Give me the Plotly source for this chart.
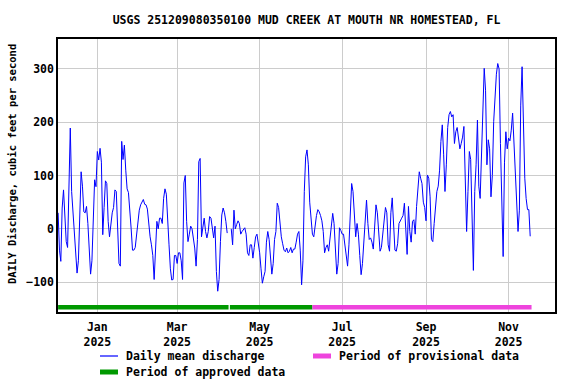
import plotly.graph_objects as go
import pandas as pd

TITLE = "USGS 251209080350100 MUD CREEK AT MOUTH NR HOMESTEAD, FL"
Y_LABEL = "DAILY Discharge, cubic feet per second"
START_DATE = "2024-12-03"

# Daily mean discharge (cfs), consecutive days from START_DATE
q_dec_jan = [30, -40, -61, 39, 73, 10, -24, -35, 100, 189, 70, 30, 0, -61, -83, -60, 40, 107, 80, 32,
             30, 42, 10, -55, -85, -60, 30, 92, 79, 145, 129, 151, 125, -11, 40, 90, 85, 14, -15, 15,
             30, 40, 73, 70, -8]
q_jan_feb = [-65, -70, 164, 130, 157, 110, 75, 68, 40, 0, -40, -40, -35, -8, 15, 35, 45, 50, 55, 46,
             45, 37, 5, -15, -30, -50, -95, -30, 14, 0, 20, 20, 10, 57, 75, 65, 0, -30, -75, -96,
             -95, -50, -50, -65]
q_mar_apr = [-45, -45, -60, -95, 86, 100, 14, -24, -10, 5, 0, -15, -36, -70, -20, 126, 132, -15, 5, 20,
             -5, -17, -5, 23, 20, 5, -17, 5, -80, -117, -95, -24, 26, 39, 30, 14, -8, None, None, 0,
             -30, 35, 0, 8]
q_apr_may = [15, 10, -10, -5, 0, 2, -10, -45, -50, -30, -30, -55, -35, -15, -10, -24, -45, -75, -102, -90,
             -80, -25, -5, -20, -55, -85, -65, -20, -5, 48, 40, 5, -15, -28, -40, -43, -36, -45, -42, -35,
             -45, -38, -38, -25, -10]
q_jun_jul = [-5, -40, -105, -60, 70, 135, 148, 120, 50, 20, -10, -15, 7, 25, 36, 32, 25, 15, -5, -45,
             -35, -30, -42, -15, 5, 29, 10, -30, -85, -65, 2, -3, -10, -10, -30, -50, -70, -30, 32, 85,
             70, 30, -15, 10]
q_aug_sep = [-10, -50, -86, -65, -20, 32, 54, 10, -20, -17, -25, -38, 0, 45, 30, -10, -42, -35, -10, 26,
             40, 30, -30, -42, 30, 58, -5, -40, -42, -28, 10, 17, 20, 25, 48, 0, -48, 42, -5, -25,
             14, 17, -10, 42, 76]
q_sep_oct = [107, 95, 85, 50, 40, 15, 101, 95, 60, -20, -24, 10, 50, 70, 80, 110, 164, 195, 140, 70,
             120, 190, 214, 220, 210, 214, 160, 182, 190, 165, 150, 160, 172, 192, 100, -5, 70, 145, 130, 40,
             -78, 70, 120, 204]
q_oct_nov = [80, 57, 150, 240, 301, 260, 120, 167, 150, 60, 100, 201, 257, 290, 310, 300, 160, 14, -52, 125,
             182, 150, 170, 165, 185, 217, 160, 95, 40, -5, 35, 232, 304, 160, 95, 57, 36, 36, -14]

discharge = q_dec_jan + q_jan_feb + q_mar_apr + q_apr_may + q_jun_jul + q_aug_sep + q_sep_oct + q_oct_nov
dates = pd.date_range(START_DATE, periods=len(discharge), freq="D")

approved_periods = [("2024-12-03", "2025-04-08"), ("2025-04-09", "2025-06-09")]
provisional_periods = [("2025-06-09", "2025-11-18")]
PERIOD_LEVEL = -147

x_tick_vals = ["2025-01-01", "2025-03-01", "2025-05-01", "2025-07-01", "2025-09-01", "2025-11-01"]
x_tick_text = ["Jan<br>2025", "Mar<br>2025", "May<br>2025", "Jul<br>2025", "Sep<br>2025", "Nov<br>2025"]
y_tick_vals = [-100, 0, 100, 200, 300]

BLUE = "#0000FF"
GREEN = "#009900"
PINK = "#EE44DD"
GRID = "#CCCCCC"
FONT = "DejaVu Sans Mono"


def period_xy(periods):
    xs, ys = [], []
    for s, e in periods:
        xs += [s, e, None]
        ys += [PERIOD_LEVEL, PERIOD_LEVEL, None]
    return xs, ys


fig = go.Figure()
ax, ay = period_xy(approved_periods)
fig.add_trace(go.Scatter(x=ax, y=ay, mode="lines", line=dict(color=GREEN, width=4.5),
                         name="Period of approved data", connectgaps=False))
px_, py_ = period_xy(provisional_periods)
fig.add_trace(go.Scatter(x=px_, y=py_, mode="lines", line=dict(color=PINK, width=4.5),
                         name="Period of provisional data", connectgaps=False))
fig.add_trace(go.Scatter(x=dates, y=discharge, mode="lines", line=dict(color=BLUE, width=1),
                         name="Daily mean discharge", connectgaps=False))

# plot area in pixels: x 58..555, y 39..312
L, R, T, B = 58, 555, 39, 312
W, H = R - L, B - T


def px_x(x):
    return (x - L) / W


def px_y(y):
    return (B - y) / H


fig.update_layout(
    width=576, height=384,
    margin=dict(l=L, r=576 - R, t=T, b=384 - B),
    paper_bgcolor="white", plot_bgcolor="white",
    showlegend=False,
    font=dict(family=FONT, size=11.5, color="black", weight="bold"),
    title=dict(text=TITLE, x=0.5, xref="paper", xanchor="center",
               y=1 - 20 / 384, yref="container", yanchor="middle",
               font=dict(family=FONT, size=11.5, color="black", weight="bold")),
    xaxis=dict(type="date", range=["2024-12-02 22:00", "2025-12-05 08:00"],
               tickvals=x_tick_vals, ticktext=x_tick_text, ticks="", ticklabelstandoff=3,
               showgrid=True, gridcolor=GRID, gridwidth=1, zeroline=False,
               showline=True, linecolor="black", linewidth=1.5, mirror=True,
               tickfont=dict(family=FONT, size=11.5, color="black", weight="bold")),
    yaxis=dict(range=[-156, 356], tickvals=y_tick_vals, ticks="",
               showgrid=True, gridcolor=GRID, gridwidth=1, zeroline=False,
               showline=True, linecolor="black", linewidth=1.5, mirror=True,
               tickfont=dict(family=FONT, size=11.5, color="black", weight="bold")),
)

fig.add_annotation(text=Y_LABEL, xref="paper", yref="paper", x=px_x(12), y=px_y(164),
                   textangle=-90, showarrow=False, xanchor="center", yanchor="middle",
                   font=dict(family=FONT, size=10.5, color="black", weight="bold"))

legend_items = [
    ("Daily mean discharge", BLUE, 1.2, 100, 356),
    ("Period of provisional data", PINK, 5, 313, 356),
    ("Period of approved data", GREEN, 5, 100, 372),
]
for label, color, width, x0, yy in legend_items:
    fig.add_shape(type="line", xref="paper", yref="paper",
                  x0=px_x(x0), x1=px_x(x0 + 18), y0=px_y(yy), y1=px_y(yy),
                  line=dict(color=color, width=width))
    fig.add_annotation(text=label, xref="paper", yref="paper", x=px_x(x0 + 24), y=px_y(yy),
                       showarrow=False, xanchor="left", yanchor="middle",
                       font=dict(family=FONT, size=11.5, color="black", weight="bold"))

fig.write_html("out.html", config={"displayModeBar": False},
               post_script="document.body.style.margin='0';document.body.style.overflow='hidden';")
